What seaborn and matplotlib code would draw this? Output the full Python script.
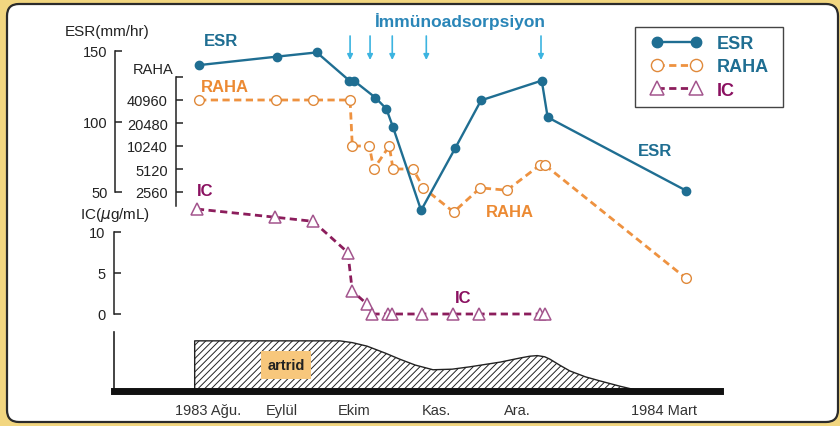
import numpy as np
import pandas as pd
import seaborn as sns
import matplotlib.pyplot as plt
from matplotlib.patches import FancyBboxPatch, Rectangle
from matplotlib.ticker import NullLocator

sns.set_style('white')
plt.rcParams['font.family'] = ['Liberation Sans', 'DejaVu Sans']
plt.rcParams['hatch.linewidth'] = 0.7

# time in months from 1983 Aug (the original drawing is not to scale)
month_ticks = [0, 1.0, 1.97, 3.08, 4.18, 6.16]
month_labels = ['1983 Ağu.', 'Eylül', 'Ekim', 'Kas.', 'Ara.', '1984 Mart']

esr_t = [-0.12, 0.93, 1.47, 1.91, 1.97, 2.26, 2.41, 2.50, 2.88, 3.34, 3.69, 4.51, 4.59, 6.46]
esr = [140, 146, 149, 129, 129, 117, 109, 96, 37, 81, 115, 129, 103, 51]

raha_t = [-0.12, 0.92, 1.42, 1.92, 1.95, 2.18, 2.24, 2.45, 2.50, 2.77, 2.91, 3.32, 3.68,
          4.04, 4.49, 4.55, 6.46]
raha = [40960, 40960, 40960, 40960, 10240, 10240, 5120, 10240, 5120, 5120, 2900, 1400, 2900,
        2700, 5800, 5800, 190]

ic_t = [-0.15, 0.91, 1.42, 1.89, 1.95, 2.15, 2.22, 2.43, 2.49, 2.89, 3.31, 3.66, 4.49, 4.55]
ic = [12.8, 11.8, 11.3, 7.5, 2.8, 1.2, 0, 0, 0, 0, 0, 0, 0, 0]

# immunoadsorption sessions
treat_t = [1.92, 2.19, 2.49, 2.95, 4.50]

# arthritis activity (relative)
art_t = [-0.18, -0.18, 1.78, 1.95, 2.15, 2.40, 2.59, 2.80, 3.04, 3.30, 3.54, 3.95, 4.22, 4.35,
         4.45, 4.55, 4.62, 4.75, 4.89, 5.10, 5.30, 5.57, 5.84]
art = [0, 0.85, 0.85, 0.82, 0.76, 0.64, 0.54, 0.44, 0.36, 0.37, 0.41, 0.49, 0.56, 0.59,
       0.60, 0.58, 0.54, 0.44, 0.34, 0.24, 0.17, 0.08, 0]

esr_ticks = [50, 100, 150]
raha_ticks = [2560, 5120, 10240, 20480, 40960, 81920]
raha_ticklabels = ['2560', '5120', '10240', '20480', '40960', '']
ic_ticks = [0, 5, 10]

C_ESR = '#1f6e92'
C_RAHA = '#ee9240'
C_IC = '#8c1d5c'
C_TITLE = '#2a86b8'
C_ARROW = '#3cb4e0'

W, H = 840, 427
fx = lambda px: px / W
fy = lambda py: 1 - py / H

fig = plt.figure(figsize=(8.4, 4.27), dpi=100)
fig.patch.set_facecolor('#f2d680')
frame = FancyBboxPatch((0.07, 0.04), 8.31, 4.18, boxstyle='round,pad=0,rounding_size=0.12',
                       transform=fig.dpi_scale_trans, facecolor='white', edgecolor='#2b2b2b',
                       lw=1.6, zorder=-10)
fig.patches.append(frame)

XLIM = (-208 / 74, (W - 208) / 74)


def overlay(ylo, yhi, log=False):
    a = fig.add_axes([0, 0, 1, 1], facecolor='none')
    if log:
        a.set_yscale('log', base=2)
    a.set_xlim(XLIM)
    a.set_ylim(ylo, yhi)
    for s in a.spines.values():
        s.set_visible(False)
    a.set_xticks([])
    a.yaxis.set_ticks_position('left')
    return a


def style_spine(a, xpos, lo, hi, pad):
    sp = a.spines['left']
    sp.set_visible(True)
    sp.set_position(('axes', xpos / W))
    sp.set_bounds(lo, hi)
    sp.set_color('#222222')
    sp.set_linewidth(1.1)
    a.tick_params(axis='y', direction='in', length=5, width=1.1, pad=pad,
                  labelsize=10.5, colors='#222222')


# IC axis
ax_ic = overlay((315 - 427) / 8.2, 315 / 8.2)
style_spine(ax_ic, 114, 0, 10, 6)
ax_ic.set_yticks(ic_ticks)
sns.lineplot(x=ic_t, y=ic, ax=ax_ic, color=C_IC, lw=2, linestyle=(0, (2.6, 1.6)),
             marker='^', ms=8, mfc='white', mec='#a3558d', mew=1.1,
             estimator=None, sort=False, label='IC', legend=False)

# RAHA axis (log2)
r_at = lambda py: 40960 * 2 ** (-(py - 101) / 23)
ax_raha = overlay(r_at(H), r_at(0), log=True)
style_spine(ax_raha, 176, r_at(207), 81920, 6)
ax_raha.set_yticks(raha_ticks)
ax_raha.set_yticklabels(raha_ticklabels)
ax_raha.yaxis.set_minor_locator(NullLocator())
sns.lineplot(x=raha_t, y=raha, ax=ax_raha, color=C_RAHA, lw=2, linestyle=(0, (2.6, 1.6)),
             marker='o', ms=7, mfc='white', mec='#e0893a', mew=1.0,
             estimator=None, sort=False, label='RAHA', legend=False)

# ESR axis
e_at = lambda py: 150 - (py - 52) / 1.41
ax_esr = overlay(e_at(H), e_at(0))
style_spine(ax_esr, 115, 50, 150, 5.5)
ax_esr.set_yticks(esr_ticks)
sns.lineplot(x=esr_t, y=esr, ax=ax_esr, color=C_ESR, lw=1.7,
             marker='o', ms=6, mfc=C_ESR, mec=C_ESR, mew=1,
             estimator=None, sort=False, label='ESR', legend=False)

for t in treat_t:
    ax_esr.annotate('', xy=(t, e_at(61)), xytext=(t, e_at(37)),
                    arrowprops=dict(arrowstyle='-|>', color=C_ARROW, lw=1.2,
                                    mutation_scale=8, shrinkA=0, shrinkB=0))

# legend box
box = Rectangle((fx(635), fy(108)), fx(783) - fx(635), (108 - 28) / H,
                transform=fig.transFigure, facecolor='white', edgecolor='#444444',
                lw=1, zorder=5, clip_on=False)
ax_esr.add_patch(box)
handles = [ax_esr.lines[0], ax_raha.lines[0], ax_ic.lines[0]]
leg = ax_esr.legend(handles, ['ESR', 'RAHA', 'IC'], loc='upper left',
                    bbox_to_anchor=(fx(652), fy(36)), bbox_transform=fig.transFigure,
                    frameon=False, borderpad=0, borderaxespad=0, numpoints=2,
                    handlelength=2.75, handletextpad=0.85, labelspacing=0.35,
                    markerscale=1.25, prop={'weight': 'bold', 'size': 13},
                    labelcolor=[C_ESR, C_ESR, '#8a1060'])
leg.set_zorder(6)

# arthritis panel
ax_art = fig.add_axes([fx(114), fy(392), fx(720) - fx(114), (392 - 333) / H], facecolor='none')
ax_art.set_xlim((114 - 208) / 74, (720 - 208) / 74)
ax_art.set_ylim(0, 1)
ax_art.fill_between(art_t, 0, art, facecolor='white', edgecolor='#222222',
                    hatch='/////', lw=1)
for s in ['top', 'right']:
    ax_art.spines[s].set_visible(False)
ax_art.spines['left'].set_color('#222222')
ax_art.spines['left'].set_linewidth(1.2)
ax_art.spines['bottom'].set_color('#111111')
ax_art.spines['bottom'].set_linewidth(5)
ax_art.set_yticks([])
ax_art.set_xticks(month_ticks)
ax_art.set_xticklabels(month_labels)
ax_art.tick_params(axis='x', direction='out', length=6, width=1, color='#666666',
                   pad=3, labelsize=10.5, labelcolor='#333333')
fig.text(fx(286), fy(366), 'artrid', ha='center', va='center', fontsize=10.5,
         fontweight='bold', color='#222222',
         bbox=dict(boxstyle='square,pad=0.45', facecolor='#f7c77c', edgecolor='none'))

# texts
fig.text(fx(460), fy(22), 'İmmünoadsorpsiyon', ha='center', va='center', fontsize=12.5,
         fontweight='bold', color=C_TITLE)
fig.text(fx(150), fy(32), 'ESR(mm/hr)', ha='right', va='center', fontsize=11, color='#222222')
fig.text(fx(174), fy(70), 'RAHA', ha='right', va='center', fontsize=10.5, color='#222222')
fig.text(fx(150), fy(215), r'IC($\mu$g/mL)', ha='right', va='center', fontsize=11,
         color='#222222')

bold = dict(ha='center', va='center', fontsize=12, fontweight='bold')
fig.text(fx(221), fy(41), 'ESR', color=C_ESR, **bold)
fig.text(fx(655), fy(152), 'ESR', color=C_ESR, **bold)
fig.text(fx(225), fy(88), 'RAHA', color='#ec8a33', **bold)
fig.text(fx(510), fy(213), 'RAHA', color='#ec8a33', **bold)
fig.text(fx(205), fy(192), 'IC', color='#8a1060', **bold)
fig.text(fx(463), fy(299), 'IC', color='#8a1060', **bold)

fig.savefig('out.png', dpi=100, facecolor=fig.get_facecolor())
